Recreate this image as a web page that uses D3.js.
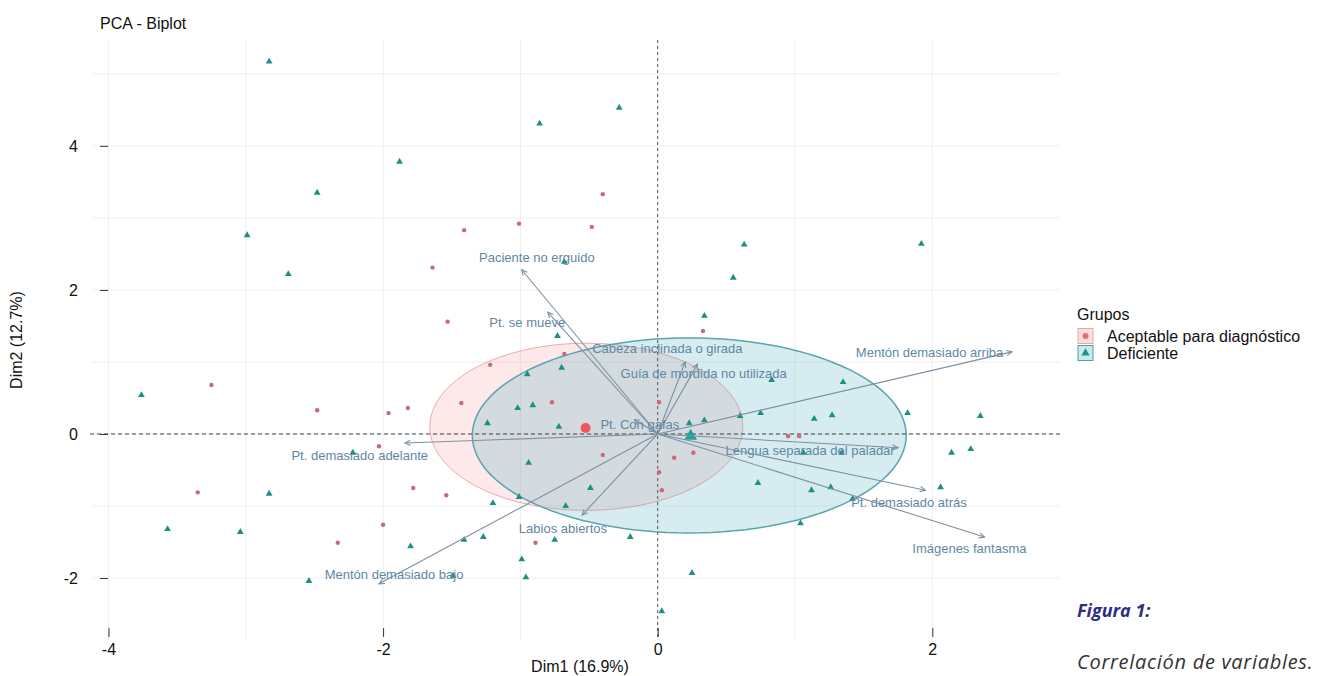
<!DOCTYPE html>
<html>
<head>
  <meta charset="utf-8" />
  <script src="https://d3js.org/d3.v7.min.js"></script>
  <style>
    * { margin: 0; padding: 0; box-sizing: border-box; }
    body { background: #fff; width: 1317px; height: 676px; overflow: hidden; }
    svg { display: block; font-family: "Liberation Sans", Arial, sans-serif; }
    .caption { font-family: "Open Sans", "Noto Sans", sans-serif; font-style: italic; }
  </style>
</head>
<body>
  <svg width="1317" height="676"></svg>

  <script>
    // Individuals, group "Deficiente" (Dim1, Dim2)
    const defX = [-2.83, -1.88, -2.48, -2.99, -2.69, -0.86, -0.28, 0.63, -0.68, 0.55, 0.34, 1.92,
      -0.73, -0.70, -0.95, 0.83, 1.35, -3.76, -1.02, -0.91, -1.24, -0.72, 0.23, 0.34, 0.60, 0.75,
      1.14, 1.27, 1.82, 2.35, 1.06, 1.34, 2.14, 2.28, -2.22, -0.94, -0.49, 0.73, 1.12, 1.26, 2.06,
      -2.83, -3.57, -3.04, -1.20, -1.01, -0.67, 1.04, -1.80, -1.41, -1.27, -0.75, -0.20, -0.99,
      -0.96, 0.25, 0.03, -1.49, -2.54, 1.42];
    const defY = [5.17, 3.78, 3.35, 2.76, 2.22, 4.31, 4.53, 2.63, 2.39, 2.17, 1.64, 2.64,
      1.36, 0.92, 0.83, 0.75, 0.72, 0.54, 0.36, 0.40, 0.15, 0.10, 0.15, 0.19, 0.25, 0.29,
      0.21, 0.26, 0.29, 0.25, -0.26, -0.26, -0.26, -0.21, -0.26, -0.40, -0.75, -0.68, -0.78, -0.74, -0.74,
      -0.83, -1.32, -1.36, -0.96, -0.875, -1.00, -1.24, -1.56, -1.47, -1.43, -1.47, -1.43, -1.74,
      -1.99, -1.93, -2.46, -1.97, -2.04, -0.90];

    // Individuals, group "Aceptable para diagnóstico"
    const aceX = [-0.40, -1.41, -1.01, -0.48, -1.64, -1.53, 0.33, -0.68, -1.22, -1.43, -1.82, -0.77,
      -3.25, -2.48, -1.96, -2.03, 0.01, -0.40, 0.12, 0.26, 0.95, 1.03, 0.01, 0.03, -1.78, -1.54,
      -3.35, -2.00, -2.33, -0.89];
    const aceY = [3.33, 2.83, 2.92, 2.875, 2.31, 1.56, 1.43, 1.11, 0.96, 0.43, 0.36, 0.44,
      0.68, 0.33, 0.29, -0.17, 0.44, -0.29, -0.33, -0.26, -0.03, -0.03, -0.53, -0.78, -0.75, -0.85,
      -0.81, -1.26, -1.51, -1.51];

    // Group means
    const groups = ["Aceptable para diagnóstico", "Deficiente"];
    const meanX = [-0.525, 0.24];
    const meanY = [0.083, -0.03];

    // Concentration ellipses: centre, semi-axes (data units)
    const ellCx = [-0.52, 0.23];
    const ellCy = [0.10, -0.02];
    const ellRx = [1.14, 1.58];
    const ellRy = [1.16, 1.354];

    // Variables: arrow tips and label anchors
    const varNames = ["Paciente no erguido", "Pt. se mueve", "Cabeza inclinada o girada",
      "Guía de mordida no utilizada", "Pt. Con gafas", "Mentón demasiado arriba",
      "Lengua separada del paladar", "Pt. demasiado atrás", "Imágenes fantasma",
      "Labios abiertos", "Mentón demasiado bajo", "Pt. demasiado adelante"];
    const varX = [-0.99, -0.80, 0.20, 0.29, -0.17, 2.58, 1.75, 1.95, 2.38, -0.55, -2.03, -1.84];
    const varY = [2.28, 1.69, 1.00, 0.97, 0.20, 1.14, -0.19, -0.78, -1.43, -1.125, -2.08, -0.125];
    const labX = [-0.88, -0.95, 0.07, 0.335, -0.13, 1.98, 1.11, 1.83, 2.27, -0.69, -1.92, -2.17];
    const labY = [2.43, 1.54, 1.17, 0.82, 0.12, 1.11, -0.25, -0.96, -1.61, -1.33, -1.97, -0.32];

    const xTicks = [-4, -2, 0, 2];
    const yTicks = [-2, 0, 2, 4];

    const pinkPt = "#cb6a73", tealPt = "#1d9084";

    const svg = d3.select("svg");
    const x = d3.scaleLinear().domain([-4.12, 2.93]).range([92, 1060]);
    const y = d3.scaleLinear().domain([-2.86, 5.47]).range([640, 40]);

    // grid
    const grid = svg.append("g");
    grid.selectAll(".gx").data(d3.range(-4, 3)).join("line")
      .attr("x1", d => x(d)).attr("x2", d => x(d))
      .attr("y1", y.range()[1]).attr("y2", y.range()[0])
      .attr("stroke", "#efefef").attr("stroke-width", 1);
    grid.selectAll(".gy").data(d3.range(-2, 6)).join("line")
      .attr("x1", x.range()[0]).attr("x2", x.range()[1])
      .attr("y1", d => y(d)).attr("y2", d => y(d))
      .attr("stroke", "#efefef").attr("stroke-width", 1);

    // ellipses
    const ellLine = d3.line().x(d => x(d[0])).y(d => y(d[1]));
    const ellFill = ["rgba(245,135,140,0.18)", "rgba(70,168,185,0.22)"];
    const ellStroke = ["#f0a9ab", "#5aa4ad"];
    const ellWidth = [1, 1.5];
    groups.forEach((g, i) => {
      const pts = d3.range(0, 121).map(k => {
        const t = k / 120 * 2 * Math.PI;
        return [ellCx[i] + ellRx[i] * Math.cos(t), ellCy[i] + ellRy[i] * Math.sin(t)];
      });
      svg.append("path").attr("d", ellLine(pts))
        .attr("fill", ellFill[i]).attr("stroke", ellStroke[i]).attr("stroke-width", ellWidth[i]);
    });

    // reference lines
    svg.append("line").attr("x1", 90).attr("x2", x.range()[1]).attr("y1", y(0)).attr("y2", y(0))
      .attr("stroke", "#444").attr("stroke-width", 1).attr("stroke-dasharray", "4,3");
    svg.append("line").attr("x1", x(0)).attr("x2", x(0)).attr("y1", y.range()[1]).attr("y2", y.range()[0])
      .attr("stroke", "#555").attr("stroke-width", 1).attr("stroke-dasharray", "3,3");

    // individuals
    svg.append("g").selectAll("circle").data(aceX).join("circle")
      .attr("cx", d => x(d)).attr("cy", (d, i) => y(aceY[i])).attr("r", 2.2)
      .attr("fill", pinkPt);
    const tri = d3.symbol().type(d3.symbolTriangle).size(20);
    svg.append("g").selectAll("path").data(defX).join("path")
      .attr("d", tri)
      .attr("transform", (d, i) => `translate(${x(d)},${y(defY[i])})`)
      .attr("fill", tealPt);

    // group means
    svg.append("circle").attr("cx", x(meanX[0])).attr("cy", y(meanY[0])).attr("r", 5).attr("fill", "#f0575a");
    svg.append("path").attr("d", d3.symbol().type(d3.symbolTriangle).size(70))
      .attr("transform", `translate(${x(meanX[1])},${y(meanY[1])})`).attr("fill", "#1aa398");

    // variable arrows
    const arrowCol = "#7d91a3";
    const vars = svg.append("g");
    varNames.forEach((n, i) => {
      const x0 = x(0), y0 = y(0), x1 = x(varX[i]), y1 = y(varY[i]);
      vars.append("line").attr("x1", x0).attr("y1", y0).attr("x2", x1).attr("y2", y1)
        .attr("stroke", arrowCol).attr("stroke-width", 1.1);
      const a = Math.atan2(y1 - y0, x1 - x0), L = 6, w = 0.45;
      vars.append("path")
        .attr("d", `M${x1 - L * Math.cos(a - w)},${y1 - L * Math.sin(a - w)}L${x1},${y1}L${x1 - L * Math.cos(a + w)},${y1 - L * Math.sin(a + w)}`)
        .attr("fill", "none").attr("stroke", arrowCol).attr("stroke-width", 1.1);
      vars.append("text").attr("x", x(labX[i])).attr("y", y(labY[i]))
        .attr("text-anchor", "middle").attr("dominant-baseline", "middle")
        .attr("font-size", 13).attr("fill", "#5f87a3").text(n);
    });

    // axes
    const fmt = d => String(d);
    const ya = svg.append("g").attr("transform", "translate(108,0)")
      .call(d3.axisLeft(y).tickValues(yTicks).tickFormat(fmt).tickSize(8).tickPadding(22));
    const xa = svg.append("g").attr("transform", "translate(0,628)")
      .call(d3.axisBottom(x).tickValues(xTicks).tickFormat(fmt).tickSize(9).tickPadding(7));
    [ya, xa].forEach(a => {
      a.select(".domain").remove();
      a.selectAll("line").attr("stroke", "#333");
      a.selectAll("text").attr("font-size", 16).attr("fill", "#111")
        .attr("font-family", "Liberation Sans, Arial, sans-serif");
    });

    // titles
    svg.append("text").attr("x", 100).attr("y", 29).attr("font-size", 16).attr("fill", "#111").text("PCA - Biplot");
    svg.append("text").attr("x", 580).attr("y", 672).attr("text-anchor", "middle")
      .attr("font-size", 16).attr("fill", "#111").text("Dim1 (16.9%)");
    svg.append("text").attr("transform", "translate(22,340) rotate(-90)").attr("text-anchor", "middle")
      .attr("font-size", 16).attr("fill", "#111").text("Dim2 (12.7%)");

    // legend
    const leg = svg.append("g").attr("transform", "translate(1077,0)");
    leg.append("text").attr("x", 0).attr("y", 320).attr("font-size", 16).attr("fill", "#111").text("Grupos");
    const keyFill = ["#fbdfe0", "#c9e9ee"], keyStroke = ["#e9a6aa", "#4d9fa9"];
    groups.forEach((g, i) => {
      const cy = 336 + i * 17;
      leg.append("rect").attr("x", 1).attr("y", cy - 7.5).attr("width", 15).attr("height", 15)
        .attr("fill", keyFill[i]).attr("stroke", keyStroke[i]).attr("stroke-width", 1);
      if (i === 0) leg.append("circle").attr("cx", 8.5).attr("cy", cy).attr("r", 3).attr("fill", "#ea6a72");
      else leg.append("path").attr("d", d3.symbol().type(d3.symbolTriangle).size(30))
        .attr("transform", `translate(8.5,${cy})`).attr("fill", "#1f9487");
      leg.append("text").attr("x", 30).attr("y", cy + 6).attr("font-size", 16).attr("fill", "#111").text(g);
    });

    // figure caption
    svg.append("text").attr("class", "caption").attr("x", 1077).attr("y", 617)
      .attr("font-size", 18).attr("font-weight", "bold").attr("fill", "#2e2f86").text("Figura 1:");
    svg.append("text").attr("class", "caption").attr("x", 1077).attr("y", 669)
      .attr("font-size", 20).attr("letter-spacing", 0.7).attr("fill", "#333").text("Correlación de variables.");
  </script>
</body>
</html>
